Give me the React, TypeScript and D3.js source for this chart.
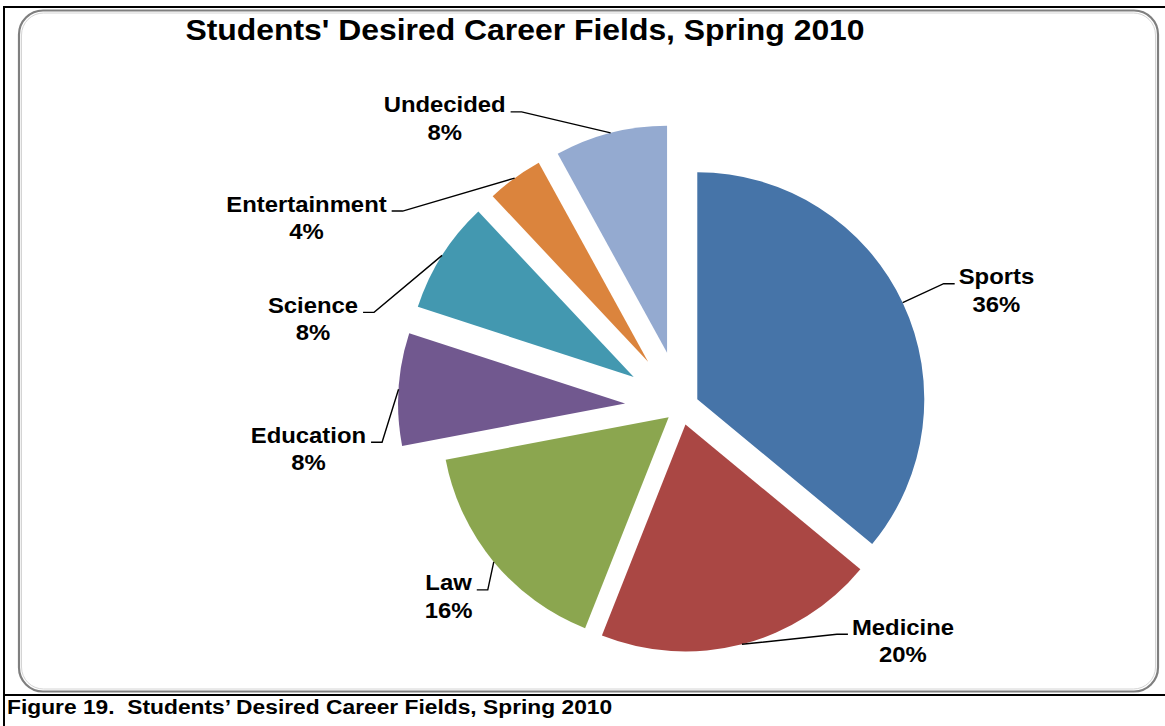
import React, { useEffect, useRef } from "react";
import * as d3 from "d3";

// ---- data ----
const categories: string[] = ["Sports", "Medicine", "Law", "Education", "Science", "Entertainment", "Undecided"];
const values: number[] = [36, 20, 16, 8, 8, 4, 8];

// ---- styles / layout ----
const colors: string[] = ["#4674A8", "#AA4744", "#8BA64F", "#71588F", "#4398B0", "#DB843D", "#94AAD0"];
const explode: number[] = [18, 18, 16, 56, 56, 56, 56];
const leaderElbow: [number, number][] = [
  [41, -19], [95, -10], [-6, 28], [-16.5, 53], [-68, 57], [-112, 33], [-89, -21],
];
const TITLE = "Students' Desired Career Fields, Spring 2010";
const CAPTION = "Figure 19.  Students\u2019 Desired Career Fields, Spring 2010";
const FONT = "'Liberation Sans', Arial, sans-serif";
const W = 1165, H = 726;
const CX = 681, CY = 407, R = 227;
const SX = 1.085;

export default function App() {
  const ref = useRef<SVGSVGElement | null>(null);

  useEffect(() => {
    document.body.style.margin = "0";
    const svg = d3.select(ref.current);
    svg.selectAll("*").remove();

    // frame
    svg.append("rect").attr("x", 0).attr("y", 0).attr("width", W).attr("height", H).attr("fill", "#fff");
    svg.append("rect").attr("x", 19).attr("y", 10.5).attr("width", 1139).attr("height", 681)
      .attr("rx", 24).attr("fill", "none").attr("stroke", "#7f7f7f").attr("stroke-width", 2.2);
    svg.append("rect").attr("x", 21.5).attr("y", 13).attr("width", 1134).attr("height", 676)
      .attr("rx", 22).attr("fill", "none").attr("stroke", "#d4d4d4").attr("stroke-width", 1);
    svg.append("line").attr("x1", 4).attr("x2", W).attr("y1", 7).attr("y2", 7).attr("stroke", "#000").attr("stroke-width", 2);
    svg.append("line").attr("x1", 4).attr("x2", W).attr("y1", 695).attr("y2", 695).attr("stroke", "#000").attr("stroke-width", 2);
    svg.append("line").attr("x1", 4).attr("x2", 4).attr("y1", 6).attr("y2", H).attr("stroke", "#000").attr("stroke-width", 2);

    // title
    svg.append("g").attr("transform", `translate(525,40) scale(1.1,1)`)
      .append("text").attr("text-anchor", "middle").attr("font-family", FONT)
      .attr("font-weight", "bold").attr("font-size", 29).attr("fill", "#000").text(TITLE);

    // caption
    svg.append("g").attr("transform", `translate(7,714) scale(${SX},1)`)
      .append("text").attr("text-anchor", "start").attr("font-family", FONT)
      .style("white-space", "pre")
      .attr("font-weight", "bold").attr("font-size", 21).attr("fill", "#000").text(CAPTION);

    // pie
    const pieData = d3.pie<number>().sort(null).value((d) => d).startAngle(0).endAngle(2 * Math.PI)(values);
    const arc = d3.arc<d3.PieArcDatum<number>>().innerRadius(0).outerRadius(R);
    const g = svg.append("g");
    const lg = svg.append("g");

    pieData.forEach((p, i) => {
      const mid = (p.startAngle + p.endAngle) / 2;
      const ux = Math.sin(mid), uy = -Math.cos(mid);
      const vx = CX + explode[i] * ux, vy = CY + explode[i] * uy;
      g.append("path").attr("d", arc(p) as string)
        .attr("transform", `translate(${vx},${vy})`).attr("fill", colors[i]);

      const sx = vx + R * ux, sy = vy + R * uy;
      const ex = sx + leaderElbow[i][0], ey = sy + leaderElbow[i][1];
      const right = ux > 0;
      const hx = ex + (right ? 11 : -11);
      lg.append("polyline").attr("points", `${sx},${sy} ${ex},${ey} ${hx},${ey}`)
        .attr("fill", "none").attr("stroke", "#000").attr("stroke-width", 1.4);

      const tg = lg.append("g").attr("transform", `translate(${hx + (right ? 4 : -5)},${ey + 0.5}) scale(${SX},1)`);
      const name = tg.append("text").attr("text-anchor", right ? "start" : "end")
        .attr("font-family", FONT).attr("font-weight", "bold").attr("font-size", 22).attr("fill", "#000")
        .text(categories[i]);
      const w = (name.node() as SVGTextElement).getComputedTextLength();
      tg.append("text").attr("x", right ? w / 2 : -w / 2).attr("y", 27.5).attr("text-anchor", "middle")
        .attr("font-family", FONT).attr("font-weight", "bold").attr("font-size", 22).attr("fill", "#000")
        .text(`${values[i]}%`);
    });
  }, []);

  return <svg ref={ref} width={W} height={H} style={{ display: "block" }} />;
}
